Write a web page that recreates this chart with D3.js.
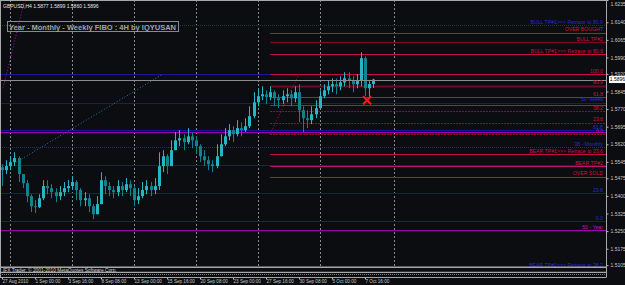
<!DOCTYPE html>
<html>
<head>
<meta charset="utf-8">
<script src="https://cdn.jsdelivr.net/npm/d3@7"></script>
<style>
  body { margin: 0; background: #0b0d10; }
  svg { display: block; font-family: "Liberation Sans", Arial, sans-serif; }
</style>
</head>
<body>
<div id="chart"></div>
<script>
// GBPUSD H4, one candle for every second H4 bar
const closes = [
  1.5510, 1.5527, 1.5544, 1.5561, 1.5493, 1.5454, 1.5399, 1.5356, 1.5352, 1.5390,
  1.5442, 1.5433, 1.5416, 1.5399, 1.5416, 1.5433, 1.5442, 1.5459, 1.5425, 1.5382,
  1.5390, 1.5356, 1.5322, 1.5365, 1.5467, 1.5442, 1.5425, 1.5416, 1.5442, 1.5425,
  1.5450, 1.5433, 1.5382, 1.5399, 1.5425, 1.5442, 1.5425, 1.5442, 1.5527, 1.5569,
  1.5527, 1.5595, 1.5637, 1.5646, 1.5629, 1.5654, 1.5637, 1.5612, 1.5569, 1.5552,
  1.5535, 1.5527, 1.5569, 1.5620, 1.5654, 1.5680, 1.5663, 1.5689, 1.5680, 1.5697,
  1.5740, 1.5799, 1.5825, 1.5833, 1.5821, 1.5842, 1.5816, 1.5808, 1.5825, 1.5833,
  1.5816, 1.5842, 1.5765, 1.5731, 1.5723, 1.5748, 1.5774, 1.5825, 1.5850, 1.5867,
  1.5876, 1.5867, 1.5884, 1.5901, 1.5893, 1.5876, 1.5893, 1.5987, 1.5859, 1.5877,
  1.5896
];
const highs = [
  1.5535, 1.5552, 1.5569, 1.5586, 1.5569, 1.5493, 1.5467, 1.5407, 1.5382, 1.5407,
  1.5467, 1.5467, 1.5450, 1.5433, 1.5442, 1.5459, 1.5467, 1.5484, 1.5467, 1.5433,
  1.5416, 1.5407, 1.5365, 1.5399, 1.5501, 1.5484, 1.5459, 1.5442, 1.5467, 1.5459,
  1.5476, 1.5467, 1.5442, 1.5433, 1.5459, 1.5467, 1.5459, 1.5476, 1.5586, 1.5595,
  1.5578, 1.5637, 1.5672, 1.5680, 1.5663, 1.5689, 1.5672, 1.5654, 1.5620, 1.5595,
  1.5569, 1.5552, 1.5620, 1.5663, 1.5689, 1.5706, 1.5697, 1.5723, 1.5714, 1.5731,
  1.5782, 1.5842, 1.5859, 1.5867, 1.5850, 1.5867, 1.5850, 1.5833, 1.5850, 1.5859,
  1.5850, 1.5867, 1.5876, 1.5782, 1.5765, 1.5782, 1.5808, 1.5850, 1.5876, 1.5893,
  1.5901, 1.5901, 1.5910, 1.5927, 1.5927, 1.5910, 1.5919, 1.6012, 1.5995, 1.5893,
  1.5899
];
const lows = [
  1.5442, 1.5493, 1.5510, 1.5527, 1.5459, 1.5433, 1.5373, 1.5331, 1.5327, 1.5348,
  1.5382, 1.5407, 1.5390, 1.5373, 1.5382, 1.5399, 1.5416, 1.5425, 1.5382, 1.5356,
  1.5356, 1.5331, 1.5301, 1.5322, 1.5365, 1.5407, 1.5399, 1.5390, 1.5399, 1.5399,
  1.5416, 1.5399, 1.5356, 1.5365, 1.5390, 1.5407, 1.5399, 1.5407, 1.5425, 1.5501,
  1.5493, 1.5527, 1.5595, 1.5612, 1.5595, 1.5620, 1.5603, 1.5578, 1.5544, 1.5527,
  1.5510, 1.5501, 1.5518, 1.5586, 1.5612, 1.5637, 1.5629, 1.5654, 1.5654, 1.5672,
  1.5689, 1.5731, 1.5782, 1.5808, 1.5791, 1.5808, 1.5782, 1.5774, 1.5791, 1.5799,
  1.5782, 1.5799, 1.5714, 1.5672, 1.5689, 1.5706, 1.5731, 1.5791, 1.5816, 1.5833,
  1.5842, 1.5833, 1.5850, 1.5867, 1.5859, 1.5842, 1.5859, 1.5867, 1.5825, 1.5816,
  1.5860
];
const firstOpen = 1.5522;

// axes
const priceTicks = [1.6235, 1.6140, 1.6065, 1.5990, 1.5920, 1.5845, 1.5770, 1.5695,
  1.5620, 1.5545, 1.5475, 1.5400, 1.5325, 1.5250, 1.5175, 1.5105];
const dateTickBars = [0, 16, 32, 48, 64, 80, 96, 112, 128, 144, 160, 176];
const dateTickLabels = ["27 Aug 2010", "1 Sep 00:00", "3 Sep 16:00", "8 Sep 08:00",
  "13 Sep 00:00", "15 Sep 16:00", "20 Sep 08:00", "23 Sep 00:00", "27 Sep 16:00",
  "30 Sep 08:00", "5 Oct 00:00", "7 Oct 16:00"];
const separatorBars = [4, 34, 64, 94, 124, 154, 190];

// year / month / week levels (whole chart width)
const periodLevels = [
  { label: "BULL TP#1>>> Retrace to 80.9", price: 1.6127, kind: "blueDot" },
  { label: "", price: 1.5919, kind: "blue" },
  { label: "50 -Week", price: 1.5797, kind: "blue" },
  { label: "61.8", price: 1.5680, kind: "blue" },
  { label: "", price: 1.5672, kind: "purple" },
  { label: "38 - Monthly", price: 1.5608, kind: "blueDot" },
  { label: "", price: 1.5531, kind: "blue" },
  { label: "23.6", price: 1.5412, kind: "blue" },
  { label: "0.0", price: 1.5292, kind: "blue" },
  { label: "50 - Year", price: 1.5254, kind: "purple" },
  { label: "BEAR TP#1>>> Retrace to 38.2", price: 1.5092, kind: "blue" }
];

// 4H fibo, drawn from its anchor bar to the right
const fiboStartBar = 130;
const fiboLevels = [
  { label: "OVER BOUGHT", price: 1.6095, kind: "bright" },
  { label: "BULL TP#2", price: 1.6055, kind: "dark" },
  { label: "BULL TP#1>>> Retrace to 80.9", price: 1.6004, kind: "bright" },
  { label: "100.0", price: 1.5919, kind: "bright" },
  { label: "80.9", price: 1.5870, kind: "darkThick" },
  { label: "61.8", price: 1.5821, kind: "bright" },
  { label: "", price: 1.5789, kind: "bright" },
  { label: "38.2", price: 1.5761, kind: "dash" },
  { label: "23.6", price: 1.5712, kind: "dash" },
  { label: "0.0", price: 1.5663, kind: "dash" },
  { label: "BEAR TP#1>>> Retrace to 23.6", price: 1.5578, kind: "bright" },
  { label: "BEAR TP#2", price: 1.5527, kind: "pink" },
  { label: "OVER SOLD", price: 1.5481, kind: "bright" }
];

const trendLines = [
  { from: [130, 1.5663], to: [144, 1.5919], kind: "redDot" },
  { from: [7, 1.5544], to: [78, 1.5919], kind: "cyanDot" },
  { from: [0.5, 1.5859], to: [11, 1.6235], kind: "magentaDot" }
];
const markers = [{ bar: 177, price: 1.5808 }];

const symbol = "GBPUSD,H4";
const title = "Year - Monthly - Weekly FIBO : 4H by IQYUSAN";
const copyright = "IFX Trader, \u00A9 2001-2010 MetaQuotes Software Corp.";

// styles
const lineStyle = {
  bright:     { color: "#c8103c", w: 1, dash: null },
  dark:       { color: "#7c0820", w: 1.5, dash: null },
  darkThick:  { color: "#6e0a26", w: 2, dash: null },
  dash:       { color: "#9c0c2a", w: 1, dash: "2,1" },
  pink:       { color: "#c0107a", w: 1, dash: null },
  blue:       { color: "#16169a", w: 1, dash: null },
  blueDot:    { color: "#2020b4", w: 1, dash: "1,1" },
  purple:     { color: "#a000b0", w: 1, dash: null },
  redDot:     { color: "#c01030", w: 1, dash: "1,2" },
  cyanDot:    { color: "#2a78b0", w: 1, dash: "1,2" },
  magentaDot: { color: "#b010c0", w: 1, dash: "1,2" }
};
const labelColor = { fib: "#d01040", blue: "#2828d8", purple: "#c010c0" };

const width = 625, height = 285;
const chartRight = 606, chartBottom = 267, windowBottom = 277;

const svg = d3.select("#chart").append("svg")
  .attr("width", width).attr("height", height);

svg.append("rect").attr("width", width).attr("height", height).attr("fill", "#0b0d10");

svg.append("defs").append("clipPath").attr("id", "plotClip")
  .append("rect").attr("width", chartRight).attr("height", chartBottom);

const x = d3.scaleLinear().domain([0, 176]).range([2, 365]);
const y = d3.scaleLinear().domain([1.5097, 1.6235]).range([chartBottom, 0]);
const crisp = (v) => Math.round(v) + 0.5;

const plot = svg.append("g").attr("clip-path", "url(#plotClip)");

// weekly separators
plot.append("g").selectAll("line").data(separatorBars).join("line")
  .attr("x1", (d) => crisp(x(d))).attr("x2", (d) => crisp(x(d)))
  .attr("y1", 0).attr("y2", chartBottom)
  .attr("stroke", "#8a8a8a").attr("stroke-dasharray", "2,2");

function drawLevels(data, x1) {
  plot.append("g").selectAll("line").data(data).join("line")
    .attr("x1", x1).attr("x2", chartRight)
    .attr("y1", (d) => crisp(y(d.price))).attr("y2", (d) => crisp(y(d.price)))
    .attr("stroke", (d) => lineStyle[d.kind].color)
    .attr("stroke-width", (d) => lineStyle[d.kind].w)
    .attr("stroke-dasharray", (d) => lineStyle[d.kind].dash);
}
drawLevels(periodLevels, 0);
drawLevels(fiboLevels, x(fiboStartBar));

// diagonal fibo base lines
plot.append("g").selectAll("line").data(trendLines).join("line")
  .attr("x1", (d) => x(d.from[0])).attr("y1", (d) => y(d.from[1]))
  .attr("x2", (d) => x(d.to[0])).attr("y2", (d) => y(d.to[1]))
  .attr("stroke", (d) => lineStyle[d.kind].color)
  .attr("stroke-dasharray", (d) => lineStyle[d.kind].dash);

// candles
const candles = closes.map((c, i) => ({
  bar: i * 2,
  open: i === 0 ? firstOpen : closes[i - 1],
  high: highs[i], low: lows[i], close: c
}));
const upColor = "#27b6c6", downColor = "#13828f";
const cg = plot.append("g").selectAll("g").data(candles).join("g");
cg.append("line")
  .attr("x1", (d) => crisp(x(d.bar))).attr("x2", (d) => crisp(x(d.bar)))
  .attr("y1", (d) => y(Math.max(d.high, d.open, d.close)))
  .attr("y2", (d) => y(Math.min(d.low, d.open, d.close)))
  .attr("stroke", (d) => d.close >= d.open ? upColor : downColor);
cg.append("rect")
  .attr("x", (d) => Math.round(x(d.bar)) - 1)
  .attr("width", 3)
  .attr("y", (d) => y(Math.max(d.open, d.close)))
  .attr("height", (d) => Math.max(1, Math.abs(y(d.open) - y(d.close))))
  .attr("fill", (d) => d.close >= d.open ? upColor : downColor);

// current bid line
const last = candles[candles.length - 1];
plot.append("line")
  .attr("x1", 0).attr("x2", chartRight)
  .attr("y1", crisp(y(last.close))).attr("y2", crisp(y(last.close)))
  .attr("stroke", "#8c8c8c");

// level labels
function drawLabels(data, colorOf) {
  plot.append("g").selectAll("text").data(data.filter((d) => d.label)).join("text")
    .attr("x", 603).attr("y", (d) => y(d.price) - 1.5)
    .attr("text-anchor", "end")
    .attr("fill", colorOf)
    .style("font-size", "5.2px")
    .text((d) => d.label);
}
drawLabels(periodLevels, (d) => d.kind === "purple" ? labelColor.purple : labelColor.blue);
drawLabels(fiboLevels, () => labelColor.fib);

// red cross marker
const mk = plot.append("g").selectAll("g").data(markers).join("g")
  .attr("transform", (d) => `translate(${x(d.bar)},${y(d.price)})`);
mk.append("path").attr("d", "M-4,-4L4,4M-4,4L4,-4")
  .attr("stroke", "#ff1818").attr("stroke-width", 2);

// title box
const tg = svg.append("g");
tg.append("rect").attr("x", 7.5).attr("y", 21.5).attr("width", 171).attr("height", 10)
  .attr("fill", "none").attr("stroke", "#8a8a8a");
tg.append("text").attr("x", 9).attr("y", 29.6)
  .attr("fill", "#a4a4a4").style("font-size", "7.5px").style("font-weight", "bold")
  .attr("textLength", 167).attr("lengthAdjust", "spacingAndGlyphs")
  .text(title);

// OHLC header
const f4 = d3.format(".4f");
svg.append("text").attr("x", 3).attr("y", 7.5)
  .attr("fill", "#e4e4e4").style("font-size", "5px")
  .text(`${symbol}  ${f4(last.open)} ${f4(last.high)} ${f4(last.low)} ${f4(last.close)}`);

// window frame and sub window
const frame = svg.append("g").attr("stroke", "#a8a8a8").attr("fill", "none");
frame.append("line").attr("x1", 0.5).attr("x2", 0.5).attr("y1", 0).attr("y2", windowBottom);
frame.append("line").attr("x1", 0).attr("x2", chartRight).attr("y1", 0.5).attr("y2", 0.5);
frame.append("line").attr("x1", 0).attr("x2", chartRight).attr("y1", 267.3).attr("y2", 267.3).attr("stroke-width", 1.5);
frame.append("line").attr("x1", 0).attr("x2", chartRight).attr("y1", 272.3).attr("y2", 272.3).attr("stroke-width", 1.3);
frame.append("line").attr("x1", 0).attr("x2", chartRight).attr("y1", 274.5).attr("y2", 274.5)
  .attr("stroke", "#7a7a7a").attr("stroke-dasharray", "1,1");
frame.append("line").attr("x1", 0).attr("x2", chartRight + 0.5).attr("y1", windowBottom + 0.5).attr("y2", windowBottom + 0.5);
frame.append("line").attr("x1", chartRight + 0.5).attr("x2", chartRight + 0.5).attr("y1", 0).attr("y2", windowBottom);

svg.append("text").attr("x", 3).attr("y", 271.6)
  .attr("fill", "#d8d8d8").style("font-size", "4.8px")
  .text(copyright);

// price axis
const yAxis = d3.axisRight(y).tickValues(priceTicks).tickSize(2).tickSizeOuter(0)
  .tickFormat(f4);
const gy = svg.append("g").attr("transform", `translate(${chartRight + 0.5},0)`).call(yAxis);
gy.select(".domain").remove();
gy.selectAll(".tick line").attr("stroke", "#b8b8b8");
gy.selectAll(".tick text").attr("fill", "#c8c8c8").attr("x", 4)
  .style("font-size", "5px").style("font-family", "Liberation Sans, Arial, sans-serif");
gy.selectAll(".tick").filter((d) => d === priceTicks[0]).select("text").attr("dy", "1.1em");

// current price box
const cp = svg.append("g").attr("transform", `translate(609,${y(last.close)})`);
cp.append("rect").attr("x", 0).attr("y", -3.5).attr("width", 16).attr("height", 7).attr("fill", "#ffffff");
cp.append("text").attr("x", 0.8).attr("y", 1.8).attr("fill", "#000")
  .style("font-size", "5px").text(f4(last.close));

// time axis
const xAxis = d3.axisBottom(x).tickValues(dateTickBars).tickSize(2)
  .tickFormat((d, i) => dateTickLabels[i]);
const gx = svg.append("g").attr("transform", `translate(0,${windowBottom + 0.5})`).call(xAxis);
gx.select(".domain").remove();
gx.selectAll(".tick line").attr("stroke", "#b8b8b8");
gx.selectAll(".tick text").attr("fill", "#c8c8c8").attr("text-anchor", "start")
  .attr("x", 0).attr("y", 2).attr("dy", "0.72em")
  .style("font-size", "4.6px").style("font-family", "Liberation Sans, Arial, sans-serif");
</script>
</body>
</html>
